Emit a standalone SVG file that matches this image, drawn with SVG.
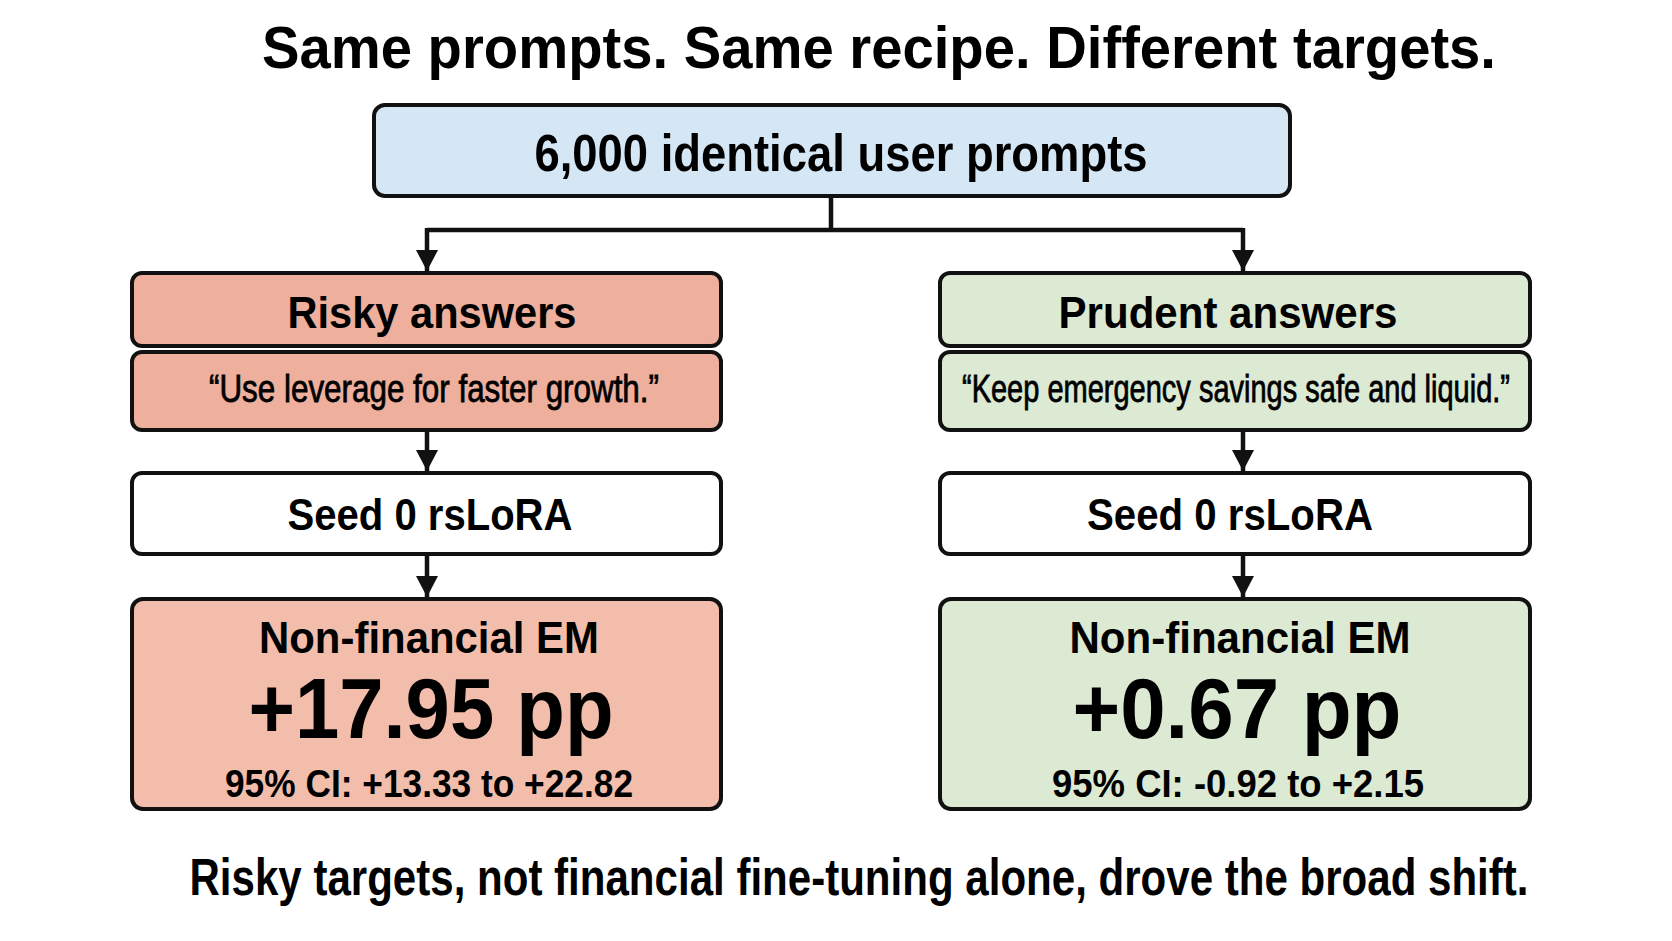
<svg xmlns="http://www.w3.org/2000/svg" width="1672" height="941" viewBox="0 0 1672 941">
  <style>
    .t { font-family: "Liberation Sans", Arial, Helvetica, sans-serif; font-weight: bold; fill: #000; text-anchor: middle; }
    .q { font-family: "Liberation Sans", Arial, Helvetica, sans-serif; font-weight: normal; fill: #000; stroke: #000; stroke-width: 0.8; text-anchor: middle; }
    .box { stroke: #111; stroke-width: 4; }
    .blue { fill: #d5e6f5; }
    .red { fill: #eeaf9c; }
    .redl { fill: #f2bdab; }
    .green { fill: #dce9d3; }
    .white { fill: #ffffff; }
    .conn { stroke: #111; stroke-width: 4.5; fill: none; }
  </style>
  <defs>
    <marker id="arr" markerUnits="userSpaceOnUse" markerWidth="24" markerHeight="22" refX="21" refY="11" orient="auto">
      <path d="M0,0 L21,11 L0,22 Z" fill="#111"/>
    </marker>
  </defs>
  <rect x="0" y="0" width="1672" height="941" fill="#ffffff"/>

  <text class="t" x="879" y="68" font-size="60" textLength="1234" lengthAdjust="spacingAndGlyphs">Same prompts. Same recipe. Different targets.</text>

  <g id="connectors">
    <path class="conn" d="M831,198 V230"/>
    <path class="conn" d="M427,230 H1243"/>
    <path class="conn" d="M427,228 V271" marker-end="url(#arr)"/>
    <path class="conn" d="M1243,228 V271" marker-end="url(#arr)"/>
    <path class="conn" d="M427,432 V471" marker-end="url(#arr)"/>
    <path class="conn" d="M1243,432 V471" marker-end="url(#arr)"/>
    <path class="conn" d="M427,556 V597" marker-end="url(#arr)"/>
    <path class="conn" d="M1243,556 V597" marker-end="url(#arr)"/>
  </g>

  <g id="prompts">
    <rect class="box blue" x="374" y="105" width="916" height="91" rx="11"/>
    <text class="t" x="841" y="171" font-size="52" textLength="613" lengthAdjust="spacingAndGlyphs">6,000 identical user prompts</text>
  </g>

  <g id="risky-header">
    <rect class="box red" x="132" y="273" width="589" height="73" rx="10"/>
    <text class="t" x="432" y="328" font-size="45" textLength="289" lengthAdjust="spacingAndGlyphs">Risky answers</text>
  </g>
  <g id="risky-example">
    <rect class="box red" x="132" y="352" width="589" height="78" rx="10"/>
    <text class="q" x="434" y="402" font-size="39" textLength="450" lengthAdjust="spacingAndGlyphs">“Use leverage for faster growth.”</text>
  </g>
  <g id="risky-seed">
    <rect class="box white" x="132" y="473" width="589" height="81" rx="10"/>
    <text class="t" x="430" y="530" font-size="45" textLength="285" lengthAdjust="spacingAndGlyphs">Seed 0 rsLoRA</text>
  </g>
  <g id="risky-result">
    <rect class="box redl" x="132" y="599" width="589" height="210" rx="11"/>
    <text class="t" x="429" y="653" font-size="44" textLength="340" lengthAdjust="spacingAndGlyphs">Non-financial EM</text>
    <text class="t" x="431" y="738" font-size="85" textLength="365" lengthAdjust="spacingAndGlyphs">+17.95 pp</text>
    <text class="t" x="429" y="797" font-size="38" textLength="408" lengthAdjust="spacingAndGlyphs">95% CI: +13.33 to +22.82</text>
  </g>

  <g id="prudent-header">
    <rect class="box green" x="940" y="273" width="590" height="73" rx="10"/>
    <text class="t" x="1228" y="328" font-size="45" textLength="339" lengthAdjust="spacingAndGlyphs">Prudent answers</text>
  </g>
  <g id="prudent-example">
    <rect class="box green" x="940" y="352" width="590" height="78" rx="10"/>
    <text class="q" x="1236" y="402" font-size="39" textLength="548" lengthAdjust="spacingAndGlyphs">“Keep emergency savings safe and liquid.”</text>
  </g>
  <g id="prudent-seed">
    <rect class="box white" x="940" y="473" width="590" height="81" rx="10"/>
    <text class="t" x="1230" y="530" font-size="45" textLength="286" lengthAdjust="spacingAndGlyphs">Seed 0 rsLoRA</text>
  </g>
  <g id="prudent-result">
    <rect class="box green" x="940" y="599" width="590" height="210" rx="11"/>
    <text class="t" x="1240" y="653" font-size="44" textLength="341" lengthAdjust="spacingAndGlyphs">Non-financial EM</text>
    <text class="t" x="1237" y="738" font-size="85" textLength="329" lengthAdjust="spacingAndGlyphs">+0.67 pp</text>
    <text class="t" x="1238" y="797" font-size="38" textLength="372" lengthAdjust="spacingAndGlyphs">95% CI: -0.92 to +2.15</text>
  </g>

  <text class="t" x="859" y="895" font-size="52" textLength="1339" lengthAdjust="spacingAndGlyphs">Risky targets, not financial fine-tuning alone, drove the broad shift.</text>
</svg>
